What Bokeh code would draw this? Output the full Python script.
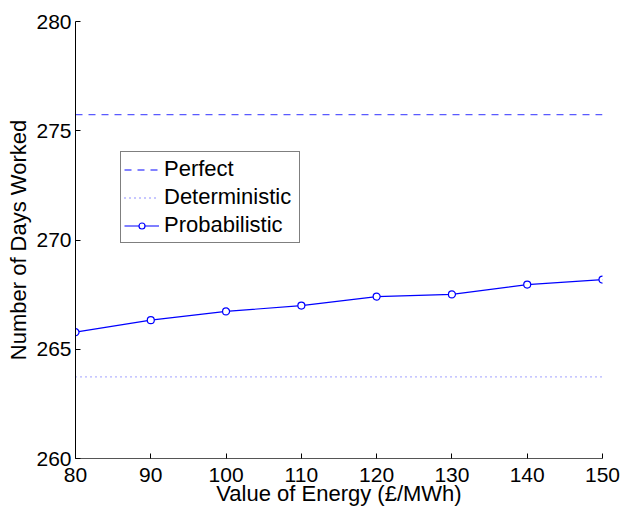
from bokeh.plotting import figure
from bokeh.models import Range1d, FixedTicker, Legend, LegendItem
from bokeh.embed import file_html
from bokeh.resources import INLINE

# ---- data ----
energy_value = [80, 90, 100, 110, 120, 130, 140, 150]
probabilistic = [265.78, 266.33, 266.73, 267.00, 267.41, 267.51, 267.96, 268.19]
perfect_level = 275.74
deterministic_level = 263.74
perfect = [perfect_level] * len(energy_value)
deterministic = [deterministic_level] * len(energy_value)
x_ticks = [80, 90, 100, 110, 120, 130, 140, 150]
y_ticks = [260, 265, 270, 275, 280]

FONT = "Liberation Sans"

p = figure(width=622, height=512, output_backend="svg", toolbar_location=None,
           x_range=Range1d(80, 150), y_range=Range1d(260, 280))
p.min_border_left = 75
p.min_border_right = 20
p.min_border_top = 21
p.min_border_bottom = 54
p.outline_line_color = None
p.xgrid.visible = False
p.ygrid.visible = False
p.background_fill_color = "white"
p.border_fill_color = "white"

r_perf = p.line(energy_value, perfect, line_color="#5a5aff", line_width=1.3, line_dash="7 6")
r_det = p.line(energy_value, deterministic, line_color="#6a6aff", line_width=1.3, line_dash="1 4")
r_prob_l = p.line(energy_value, probabilistic, line_color="blue", line_width=1.2)
r_prob_m = p.scatter(energy_value, probabilistic, marker="circle", size=7,
                     line_color="blue", fill_color="white", line_width=1.2)

for ax in (p.xaxis[0], p.yaxis[0]):
    ax.major_label_text_font = FONT
    ax.major_label_text_font_size = "21px"
    ax.major_label_text_color = "black"
    ax.axis_label_text_font = FONT
    ax.axis_label_text_font_size = "22px"
    ax.axis_label_text_font_style = "normal"
    ax.axis_label_text_color = "black"
    ax.major_tick_in = 5
    ax.major_tick_out = 0
    ax.minor_tick_in = 0
    ax.minor_tick_out = 0
    ax.major_tick_line_color = "black"

p.xaxis[0].ticker = FixedTicker(ticks=x_ticks)
p.yaxis[0].ticker = FixedTicker(ticks=y_ticks)
p.xaxis[0].axis_label = "Value of Energy (£/MWh)"
p.yaxis[0].axis_label = "Number of Days Worked"
p.xaxis[0].axis_line_color = "#555555"
p.yaxis[0].axis_line_color = "black"
p.xaxis[0].major_label_standoff = 9
p.yaxis[0].major_label_standoff = 4
p.xaxis[0].axis_label_standoff = -4
p.yaxis[0].axis_label_standoff = 2

legend = Legend(items=[
    LegendItem(label="Perfect", renderers=[r_perf]),
    LegendItem(label="Deterministic", renderers=[r_det]),
    LegendItem(label="Probabilistic", renderers=[r_prob_l, r_prob_m]),
], location=(45, 215))
legend.label_text_font = FONT
legend.label_text_font_size = "22px"
legend.label_text_color = "black"
legend.border_line_color = "black"
legend.border_line_width = 1
legend.background_fill_color = "white"
legend.background_fill_alpha = 1
legend.padding = 3
legend.spacing = 0
legend.glyph_width = 35
legend.glyph_height = 15
legend.label_height = 28
legend.label_width = 132
legend.label_standoff = 5
legend.margin = 0
p.add_layout(legend, "center")

open("out.html", "w").write(file_html(p, INLINE))
